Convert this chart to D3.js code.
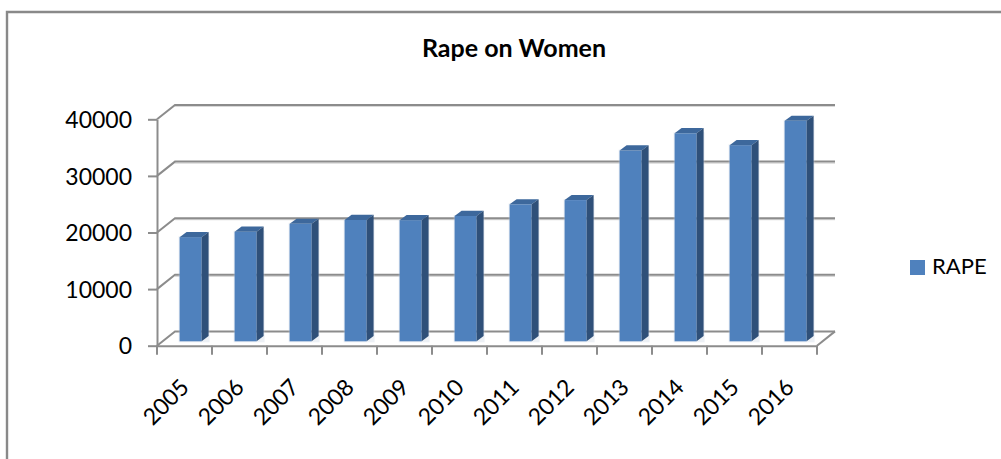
<!DOCTYPE html>
<html><head><meta charset="utf-8">
<script src="https://cdnjs.cloudflare.com/ajax/libs/d3/7.8.5/d3.min.js"></script>
<style>html,body{margin:0;padding:0;background:#fff}svg{display:block}text{font-family:Lato,"Open Sans",sans-serif;fill:#000}</style>
</head><body><div id="c"></div>
<script>
const years=["2005","2006","2007","2008","2009","2010","2011","2012","2013","2014","2015","2016"];
const rape=[18400,19350,20750,21450,21400,22150,24200,24950,33700,36750,34650,38950];
const yTicks=[0,10000,20000,30000,40000];
const seriesName="RAPE", chartTitle="Rape on Women";
const W=1001,H=459;
const svg=d3.select("#c").append("svg").attr("width",W).attr("height",H);
const grey="#8c8c8c";
// frame
svg.append("path").attr("d","M7,459V12H1001").attr("fill","none").attr("stroke","#898989").attr("stroke-width",2.4);
const x=d3.scaleBand().domain(years).range([157,817]);
const y=d3.scaleLinear().domain([0,40000]).range([345.7,119.3]);
const dx=18,dy=14.3;
const grid=svg.append("g").attr("stroke",grey).attr("stroke-width",2).attr("fill","none");
// soft shadow under the wall lines
grid.selectAll("path.s").data(yTicks.slice(1)).join("path").attr("class","s")
 .attr("d",t=>`M${x.range()[0]+dx},${y(t)-dy+1.5}H${x.range()[1]+dx}`).attr("stroke","#d9d9d9").attr("stroke-width",1.2);
grid.selectAll("path.w").data(yTicks).join("path").attr("class","w")
 .attr("d",t=>`M${x.range()[0]},${y(t)}L${x.range()[0]+dx},${y(t)-dy}H${x.range()[1]+dx}`);
grid.append("path").attr("d",`M${x.range()[1]},${y(0)}L${x.range()[1]+dx},${y(0)-dy}`);
// axes
const ax=svg.append("g").attr("transform",`translate(157,0)`)
 .call(d3.axisLeft(y).tickValues(yTicks).tickSize(9).tickPadding(16).tickSizeOuter(0).tickFormat(d3.format("d")));
ax.select(".domain").attr("stroke",grey).attr("stroke-width",2);
ax.selectAll("line").attr("stroke",grey).attr("stroke-width",2);
ax.selectAll("text").attr("font-size",23).attr("dy","0.36em").attr("x",-25);
const bx=svg.append("g").attr("transform",`translate(0,${y(0)})`)
 .call(d3.axisBottom(x).tickSize(0).tickSizeOuter(0));
bx.select(".domain").attr("stroke",grey).attr("stroke-width",2);
bx.selectAll(".tick line").remove();
bx.selectAll(".tx").data(d3.range(13)).join("line").attr("class","tx")
 .attr("x1",i=>157+i*x.step()).attr("x2",i=>157+i*x.step()).attr("y1",0).attr("y2",9)
 .attr("stroke",grey).attr("stroke-width",2);
bx.selectAll(".tick text").attr("font-size",23).attr("text-anchor","end").attr("dy",0)
 .attr("y",0).attr("transform",function(){return "translate(6,43) rotate(-45)";});
// bars
const base=341.3, bw=22, shift=6.1, d3x=7, d3y=5.2;
const h=v=>y(0)-y(v);
const bars=svg.append("g").selectAll("g").data(years.map((c,i)=>({c,v:rape[i]}))).join("g");
const barLeft=d=>x(d.c)+x.bandwidth()/2+shift-bw/2;
const barTop=d=>base-h(d.v);
bars.append("rect").attr("x",d=>barLeft(d)-1).attr("y",d=>barTop(d)-1).attr("width",bw+d3x+2).attr("height",d=>h(d.v)+2).attr("fill","#c9d4e2").attr("opacity",.35);
bars.append("rect").attr("x",barLeft).attr("y",barTop).attr("width",bw).attr("height",d=>h(d.v)).attr("fill","#4f81bd");
bars.append("path").attr("fill","#3d689c").attr("d",d=>`M${barLeft(d)},${barTop(d)}l${d3x},${-d3y}h${bw}l${-d3x},${d3y}z`);
bars.append("path").attr("fill","#2f5079").attr("d",d=>`M${barLeft(d)+bw},${barTop(d)}l${d3x},${-d3y}V${base-d3y}l${-d3x},${d3y}z`);
// title & legend
svg.append("text").attr("x",514).attr("y",57).attr("text-anchor","middle").attr("font-size",25).attr("font-weight",700).text(chartTitle);
svg.append("rect").attr("x",910).attr("y",260).attr("width",15).attr("height",15).attr("fill","#4f81bd");
svg.append("text").attr("x",932).attr("y",274).attr("font-size",22).text(seriesName);
</script></body></html>
